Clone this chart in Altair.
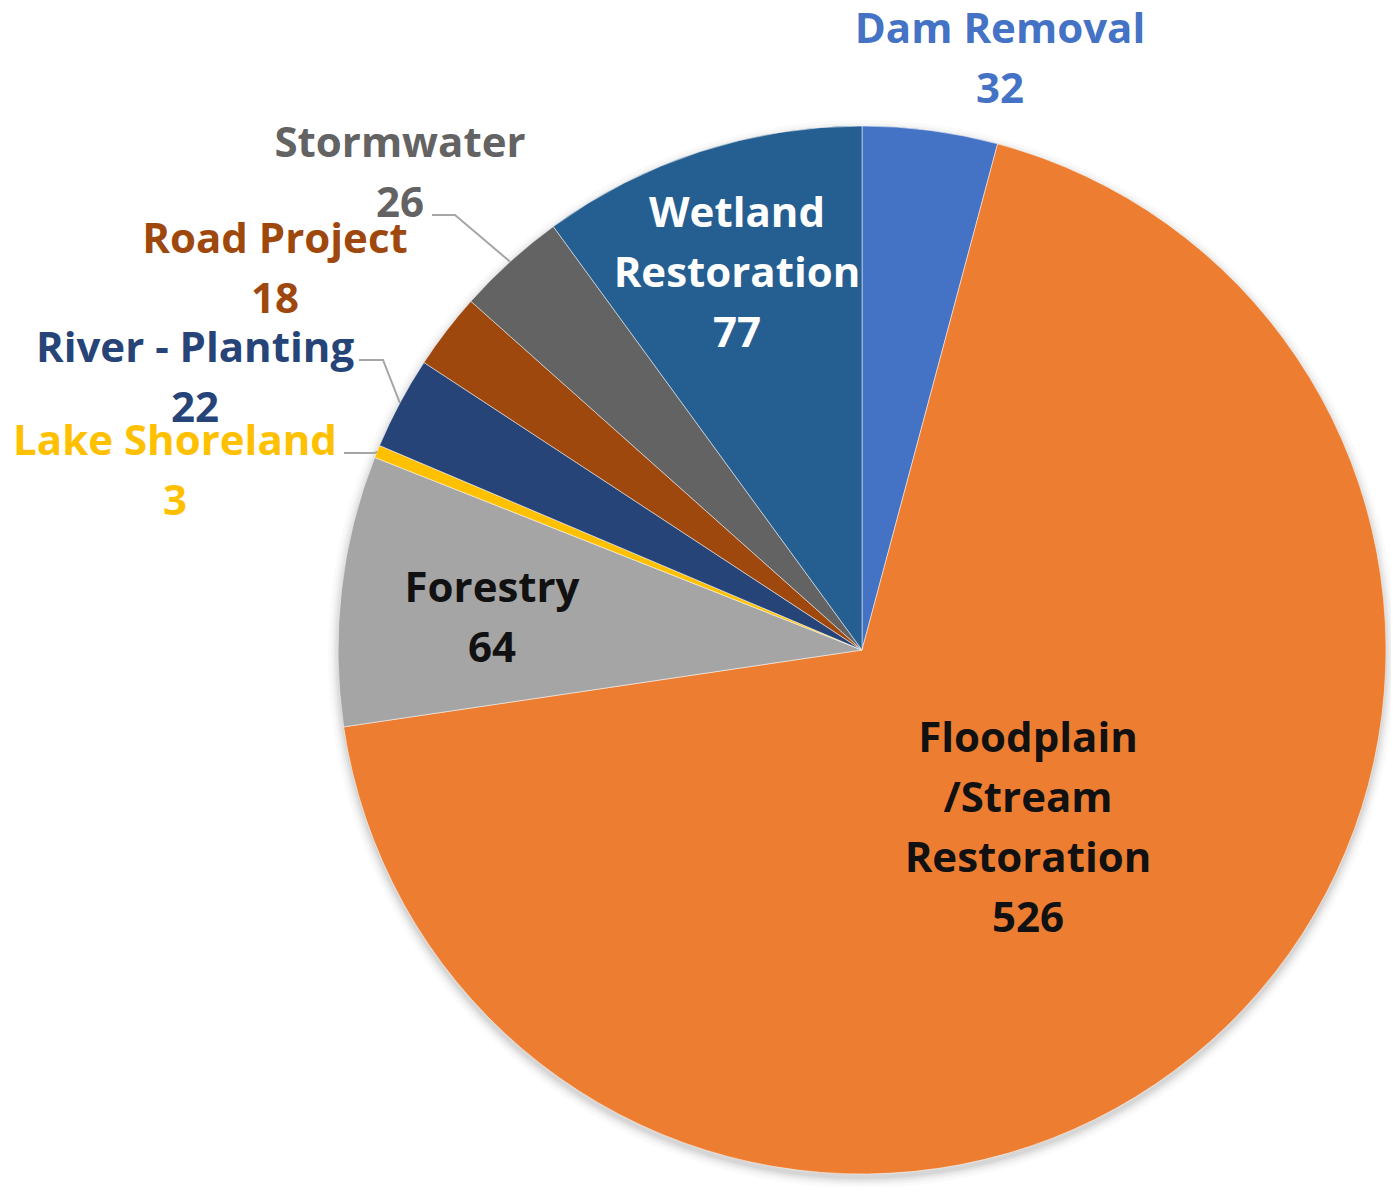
import math
import pandas as pd
import altair as alt

# ---- data ----
CATEGORIES = ["Dam Removal", "Floodplain /Stream Restoration", "Forestry", "Lake Shoreland",
              "River - Planting", "Road Project", "Stormwater", "Wetland Restoration"]
VALUES = [32, 526, 64, 3, 22, 18, 26, 77]
LABEL_LINES = [["Dam Removal"], ["Floodplain", "/Stream", "Restoration"], ["Forestry"],
               ["Lake Shoreland"], ["River - Planting"], ["Road Project"], ["Stormwater"],
               ["Wetland", "Restoration"]]

# ---- styles / layout ----
SLICE_COLORS = ["#4472C4", "#ED7D31", "#A5A5A5", "#FFC000", "#264478", "#9E480E", "#636363", "#255E91"]
TEXT_COLORS = ["#4472C4", "#111111", "#111111", "#FFC000", "#264478", "#9E480E", "#636363", "#FFFFFF"]
W, H = 1383, 1179
CX, CY, R = 854, 642, 524
FONT = "Open Sans"
FS = 42
LINE_H = 60
CAP_HALF = 15
# label block centre, offset from pie centre (px)
LABEL_OFFSETS = [(138, -592), (166, 177), (-370, -33), (-687, -180), (-667, -273),
                 (-587, -382), (-462, -478), (-125, -378)]
# leader-line elbows for outside labels (offsets from pie centre), from the text side
LEADERS = {
    "Stormwater": [(-430, -435), (-407, -435)],
    "River - Planting": [(-503, -290), (-479, -290)],
    "Lake Shoreland": [(-518, -197), (-487, -197)],
}
SHADOW = [(R + 10, 0.02), (R + 7, 0.025), (R + 5, 0.03), (R + 3, 0.04), (R + 1, 0.05)]

total = sum(VALUES)
pie_df = pd.DataFrame({"category": CATEGORIES, "value": VALUES, "order": list(range(len(VALUES)))})

# mid angles of slices (clockwise from 12 o'clock)
mids = []
acc = 0
for v in VALUES:
    mids.append((acc + v / 2) / total * 2 * math.pi)
    acc += v

# text rows: name lines then the value
text_rows = []
for i, lines in enumerate(LABEL_LINES):
    ox, oy = LABEL_OFFSETS[i]
    all_lines = lines + [str(VALUES[i])]
    n = len(all_lines)
    for j, t in enumerate(all_lines):
        yc = CY + oy + (j - (n - 1) / 2) * LINE_H
        text_rows.append({"x": CX + ox, "y": yc + CAP_HALF, "text": t, "tcolor": TEXT_COLORS[i]})
text_df = pd.DataFrame(text_rows)

# leader lines: elbow points then the slice's mid-angle point on the rim
lead_rows = []
for name, pts in LEADERS.items():
    i = CATEGORIES.index(name)
    seq = 0
    for (px, py) in pts:
        lead_rows.append({"cat": name, "seq": seq, "x": CX + px, "y": CY + py})
        seq += 1
    m = mids[i]
    lead_rows.append({"cat": name, "seq": seq, "x": CX + R * math.sin(m), "y": CY - R * math.cos(m)})
lead_df = pd.DataFrame(lead_rows)

one = pd.DataFrame({"k": [0]})
shadow_layers = [
    alt.Chart(one).mark_arc(outerRadius=r, theta=0, theta2=2 * math.pi, color="#000000", opacity=op).encode(
        x=alt.value(CX), y=alt.value(CY + 4))
    for r, op in SHADOW
]

pie = alt.Chart(pie_df).mark_arc(outerRadius=R, stroke="#ffffff", strokeWidth=1, strokeOpacity=0.5).encode(
    theta=alt.Theta("value:Q", stack=True),
    order=alt.Order("order:Q", sort="ascending"),
    color=alt.Color("category:N", scale=alt.Scale(domain=CATEGORIES, range=SLICE_COLORS), legend=None),
    x=alt.value(CX), y=alt.value(CY),
)

leaders = alt.Chart(lead_df).mark_line(color="#A6A6A6", strokeWidth=2).encode(
    x=alt.X("x:Q", scale=None),
    y=alt.Y("y:Q", scale=None),
    detail="cat:N",
    order="seq:Q",
)

labels = alt.Chart(text_df).mark_text(font=FONT, fontWeight="bold", fontSize=FS, align="center",
                                      baseline="alphabetic").encode(
    x=alt.X("x:Q", scale=None),
    y=alt.Y("y:Q", scale=None),
    text="text:N",
    color=alt.Color("tcolor:N", scale=None),
)

chart = alt.layer(*shadow_layers, pie, leaders, labels).properties(
    width=W, height=H, autosize=alt.AutoSizeParams(type="none"), padding=0, background="#ffffff"
).configure_view(stroke=None, fill="#ffffff")

chart.save("out.html", embed_options={"renderer": "svg", "actions": False})
